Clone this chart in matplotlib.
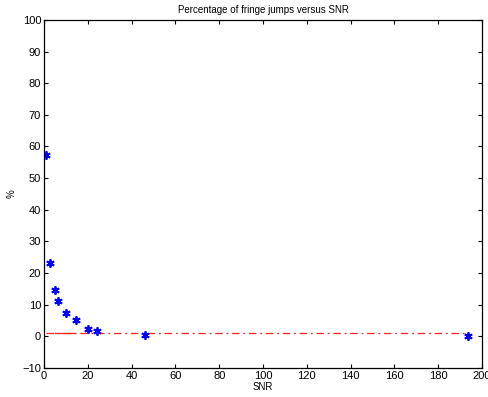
import matplotlib
matplotlib.use("Agg")
import matplotlib.pyplot as plt

# fringe-jump rate measured at each SNR
snr = [1.0, 3.0, 5.0, 6.4, 10.3, 14.6, 20.3, 24.4, 46.0, 193.5]
jumps_pct = [57.4, 23.1, 14.7, 11.2, 7.5, 5.1, 2.3, 1.7, 0.4, 0.1]

# 1 % reference level
ref_snr = [1.0, 193.5]
ref_pct = [1.0, 1.0]
dense_snr = [5.0, 14.0]

plt.rcParams["font.family"] = ["Liberation Sans", "DejaVu Sans"]
plt.rcParams["font.size"] = 7

fig = plt.figure(figsize=(4.88, 3.97), dpi=100)
ax = fig.add_axes([0.090, 0.073, 0.898, 0.877])

ax.plot(ref_snr, ref_pct, color="#ff2020", linestyle=(0, (6, 3, 1.5, 3)),
        linewidth=0.9, zorder=1)
ax.plot(dense_snr, ref_pct, color="#ff2020", linestyle="-", linewidth=0.9, zorder=1)
# MATLAB-style asterisk marker
ax.plot(snr, jumps_pct, linestyle="none", marker=(6, 2, 0), color="#0000ff",
        markersize=6, markeredgewidth=1.3, zorder=2)

ax.set_xlim(0, 200)
ax.set_ylim(-10, 100)
ax.set_xticks(range(0, 201, 20))
ax.set_yticks(range(-10, 101, 10))
ax.set_yticklabels(["\u221210"] + [str(v) for v in range(0, 101, 10)])
ax.tick_params(direction="in", top=True, right=True, length=3, width=0.8,
               pad=2, labelsize=8)
for s in ax.spines.values():
    s.set_linewidth(0.9)

ax.set_title("Percentage of fringe jumps versus SNR", fontsize=7, pad=5)
ax.set_xlabel("SNR", labelpad=1)
ax.set_ylabel("%", labelpad=4)

fig.savefig("out.png", dpi=100)
